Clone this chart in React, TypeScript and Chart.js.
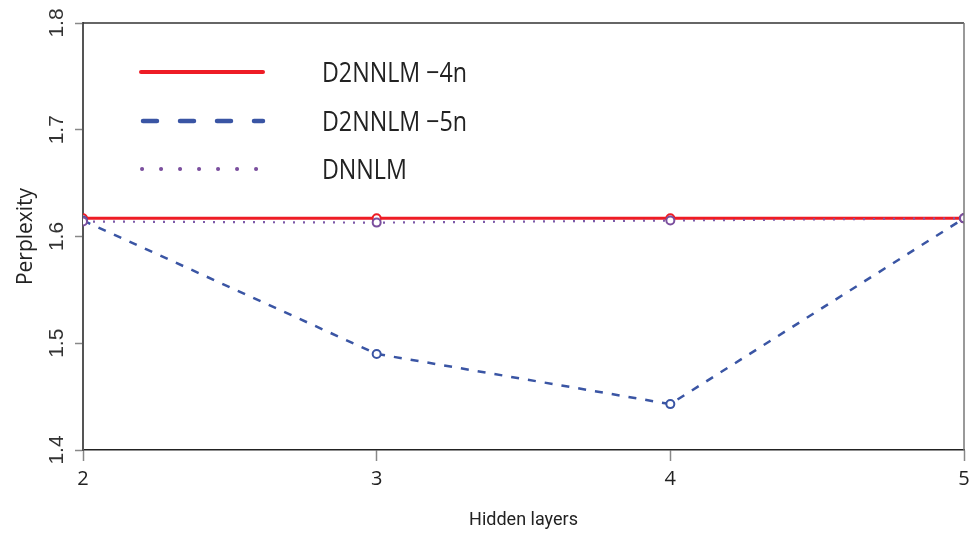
import React, { useEffect, useRef } from "react";
import { Chart, registerables } from "chart.js";

Chart.register(...registerables);

const hiddenLayers = [2, 3, 4, 5];
const d2nnlm4n = [1.617, 1.617, 1.617, 1.617];
const d2nnlm5n = [1.615, 1.49, 1.443, 1.617];
const dnnlm = [1.614, 1.613, 1.615, 1.617];
const yTickValues = [1.4, 1.5, 1.6, 1.7, 1.8];
const seriesNames = ["D2NNLM \u22124n", "D2NNLM \u22125n", "DNNLM"];
const seriesColors = ["#ee1c25", "#3a55a4", "#7b4f9e"];
const xTitle = "Hidden layers";
const yTitle = "Perplexity";

const toPoints = (ys: number[]) => hiddenLayers.map((x, i) => ({ x, y: ys[i] }));

const framePlugin = {
  id: "frame",
  afterDatasetsDraw(chart: any) {
    const { ctx, chartArea } = chart;
    ctx.save();
    ctx.lineWidth = 1.5;
    ctx.strokeStyle = "#333";
    ctx.beginPath();
    ctx.moveTo(chartArea.left, chartArea.top);
    ctx.lineTo(chartArea.right, chartArea.top);
    ctx.stroke();
    ctx.strokeStyle = "#777";
    ctx.beginPath();
    ctx.moveTo(chartArea.right, chartArea.top);
    ctx.lineTo(chartArea.right, chartArea.bottom);
    ctx.stroke();
    ctx.restore();
  },
};

const legendPlugin = {
  id: "customLegend",
  afterDraw(chart: any) {
    const { ctx } = chart;
    const x0 = 141;
    const x1 = 263;
    const rows = [72, 121, 169];
    ctx.save();
    ctx.lineCap = "round";
    ctx.strokeStyle = seriesColors[0];
    ctx.lineWidth = 4;
    ctx.setLineDash([]);
    ctx.beginPath();
    ctx.moveTo(x0, rows[0]);
    ctx.lineTo(x1, rows[0]);
    ctx.stroke();
    ctx.strokeStyle = seriesColors[1];
    ctx.lineWidth = 4.5;
    ctx.setLineDash([14, 23]);
    ctx.beginPath();
    ctx.moveTo(x0 + 2, rows[1]);
    ctx.lineTo(x1, rows[1]);
    ctx.stroke();
    ctx.strokeStyle = seriesColors[2];
    ctx.lineWidth = 4;
    ctx.setLineDash([0.1, 18.9]);
    ctx.beginPath();
    ctx.moveTo(x0 + 1, rows[2]);
    ctx.lineTo(x1 - 5, rows[2]);
    ctx.stroke();
    ctx.setLineDash([]);
    ctx.fillStyle = "#222";
    ctx.font = '28px "Open Sans"';
    ctx.textBaseline = "middle";
    ctx.textAlign = "left";
    seriesNames.forEach((name, i) => {
      ctx.save();
      ctx.translate(322, rows[i] + 2);
      ctx.scale(0.83, 1);
      ctx.fillText(name, 0, 0);
      ctx.restore();
    });
    ctx.restore();
  },
};

export default function App() {
  const canvasRef = useRef<HTMLCanvasElement | null>(null);

  useEffect(() => {
    const canvas = canvasRef.current;
    if (!canvas) return;
    const pointCommon = {
      pointRadius: 4,
      pointBorderWidth: 2,
      pointBackgroundColor: "#ffffff",
      clip: 0,
      tension: 0,
      fill: false,
    };
    const chart = new Chart(canvas, {
      type: "line",
      data: {
        datasets: [
          {
            label: seriesNames[0],
            data: toPoints(d2nnlm4n),
            borderColor: seriesColors[0],
            pointBorderColor: seriesColors[0],
            borderWidth: 3,
            order: 3,
            ...pointCommon,
          },
          {
            label: seriesNames[1],
            data: toPoints(d2nnlm5n),
            borderColor: seriesColors[1],
            pointBorderColor: seriesColors[1],
            borderWidth: 2.5,
            borderDash: [8, 9],
            order: 2,
            ...pointCommon,
          },
          {
            label: seriesNames[2],
            data: toPoints(dnnlm),
            borderColor: "#7d5aa8",
            pointBorderColor: seriesColors[2],
            borderWidth: 2.2,
            borderDash: [2, 8],
            order: 1,
            ...pointCommon,
          },
        ] as any,
      },
      options: {
        responsive: false,
        animation: false,
        devicePixelRatio: 1,
        layout: { padding: { left: 13, top: 23, right: 8, bottom: 4 } },
        plugins: {
          legend: { display: false },
          tooltip: { enabled: false },
        },
        scales: {
          x: {
            type: "linear",
            min: 2,
            max: 5,
            afterBuildTicks: (s: any) => {
              s.ticks = hiddenLayers.map((v) => ({ value: v }));
            },
            afterFit: (s: any) => {
              s.height = 81;
              s.paddingLeft = 0;
              s.paddingRight = 0;
            },
            grid: {
              display: true,
              drawOnChartArea: false,
              drawTicks: true,
              tickLength: 11,
              tickColor: "#888",
              tickWidth: 1.5,
            },
            border: { display: true, color: "#222", width: 1.5 },
            ticks: {
              font: { family: "Open Sans", size: 20 },
              color: "#222",
              padding: 6,
              maxRotation: 0,
              callback: (v: any) => String(v),
            },
            title: {
              display: true,
              text: xTitle,
              font: { family: "Roboto", size: 18 },
              color: "#222",
              padding: 0,
            },
          },
          y: {
            type: "linear",
            min: 1.4,
            max: 1.8,
            afterBuildTicks: (s: any) => {
              s.ticks = yTickValues.map((v) => ({ value: v }));
            },
            afterFit: (s: any) => {
              s.width = 70;
              s.paddingTop = 0;
              s.paddingBottom = 0;
            },
            grid: {
              display: true,
              drawOnChartArea: false,
              drawTicks: true,
              tickLength: 8,
              tickColor: "#888",
              tickWidth: 1.5,
            },
            border: { display: true, color: "#555", width: 2 },
            ticks: {
              minRotation: 90,
              maxRotation: 90,
              crossAlign: "center",
              padding: 3,
              font: { family: "Liberation Sans", size: 21 },
              color: "#333",
              callback: (v: any) => Number(v).toFixed(1),
            },
            title: {
              display: true,
              text: yTitle,
              font: { family: "Open Sans", size: 21 },
              color: "#222",
              padding: 0,
            },
          },
        },
      } as any,
      plugins: [framePlugin, legendPlugin],
    });
    return () => chart.destroy();
  }, []);

  return (
    <div style={{ position: "fixed", left: 0, top: 0, width: 972, height: 535, background: "#fff" }}>
      <canvas ref={canvasRef} width={972} height={535} style={{ display: "block" }} />
    </div>
  );
}
